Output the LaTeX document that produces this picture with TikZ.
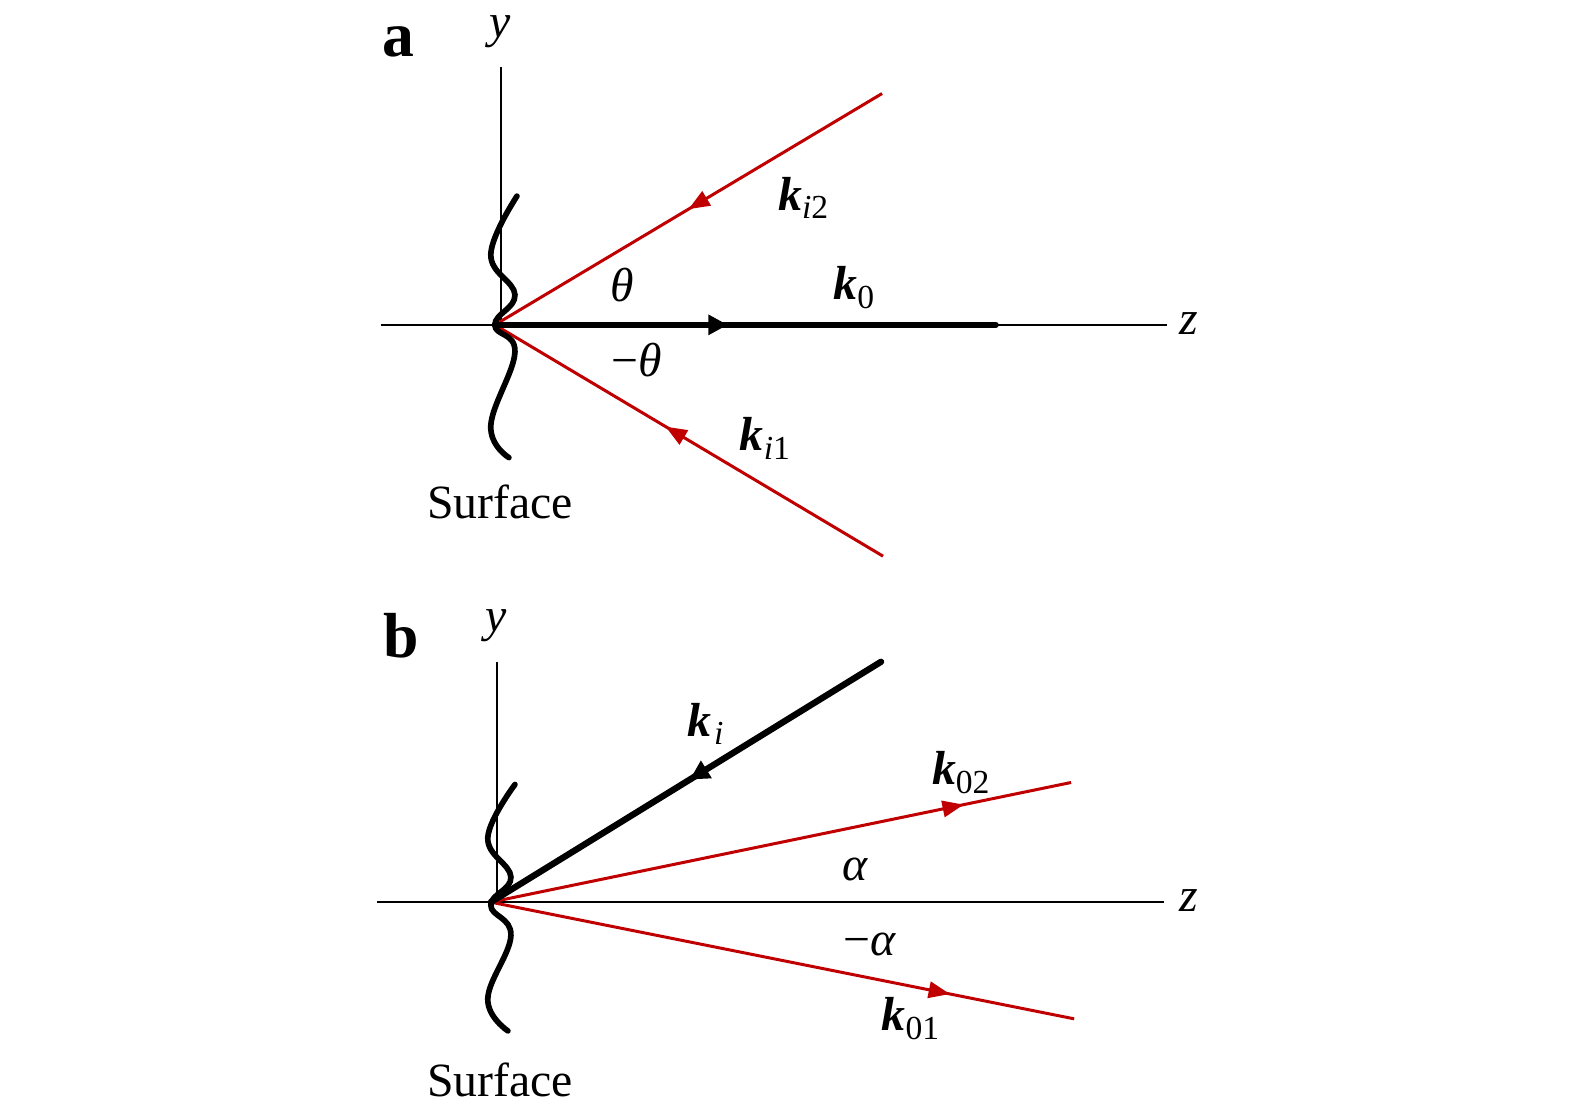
\documentclass[tikz,border=0pt]{standalone}
\usepackage{fontspec}
\setmainfont{Liberation Serif}
\usetikzlibrary{arrows.meta,decorations.markings}
\definecolor{darkred}{RGB}{192,0,0}
\newcommand{\vk}[1]{\textbf{\textit{k}}\raisebox{-0.4ex}{\fontsize{9.5}{10}\selectfont #1}}
\tikzset{
  axis/.style={line width=0.7pt},
  redray/.style={draw=darkred,line width=0.85pt},
  blackray/.style={line width=1.8pt,line cap=round},
  wave/.style={line width=1.6pt,line cap=round},
  lbl/.style={inner sep=0pt,font=\fontsize{13.5}{15}\selectfont},
  panel/.style={inner sep=0pt,font=\fontsize{18}{20}\selectfont\bfseries},
  markred/.style={postaction={decorate},decoration={markings,mark=at position #1 with {\arrow{Triangle[length=6pt,width=4.6pt]}}}},
  markblack/.style={postaction={decorate},decoration={markings,mark=at position #1 with {\arrow{Triangle[length=5.5pt,width=5.5pt]}}}}
}
\begin{document}
\begin{tikzpicture}[x=0.01cm,y=-0.01cm]
\useasboundingbox (0,0) rectangle (1566,1106);
% ---------- panel a ----------
\coordinate (oa) at (492,323);
\coordinate (yatop) at (498,67);
\coordinate (yabot) at (498,323);
\coordinate (zaL) at (379,323);
\coordinate (zaR) at (1160,323);
\coordinate (ki2end) at (877,93);
\coordinate (ki1end) at (878,553);
\coordinate (k0end) at (990,323);
\draw[axis] (yatop) -- (yabot);
\draw[axis] (zaL) -- (zaR);
\draw[redray,markred=0.5] (ki2end) -- (oa);
\draw[redray,markred=0.56] (ki1end) -- (oa);
\draw[blackray,markblack=0.465] (oa) -- (k0end);
\draw[wave] plot[smooth,tension=0.7] coordinates {(514,195) (488,253) (512,293) (492,323) (512,350) (488,423) (506,455)};
\node[panel] (pa) at (396,42) {a};
\node[lbl,font=\fontsize{13.5}{15}\selectfont\itshape] (ya) at (497,32) {y};
\node[lbl,font=\fontsize{13.5}{15}\selectfont\itshape] (za) at (1182,322) {z};
\node[lbl,anchor=base west] (lki2) at (773,209) {\vk{\textit{i}2}};
\node[lbl,anchor=base west] (lk0) at (828,298) {\vk{0}};
\node[lbl,anchor=base west] (lki1) at (735,448) {\vk{\textit{i}1}};
\node[lbl,anchor=base west] (lth) at (606,300) {\textit{θ}};
\node[lbl,anchor=base west] (lmth) at (607,374) {−\textit{θ}};
\node[lbl,anchor=base west] (surfa) at (424,516) {Surface};
% ---------- panel b ----------
\coordinate (ob) at (488,897);
\coordinate (ybtop) at (494,658);
\coordinate (ybbot) at (494,897);
\coordinate (zbL) at (375,897);
\coordinate (zbR) at (1157,897);
\coordinate (kiend) at (876,658);
\coordinate (k02end) at (1065,778);
\coordinate (k01end) at (1068,1013);
\draw[axis] (ybtop) -- (ybbot);
\draw[axis] (zbL) -- (zbR);
\draw[redray,markred=0.815] (ob) -- (k02end);
\draw[redray,markred=0.787] (ob) -- (k01end);
\draw[blackray,markblack=0.49] (kiend) -- (ob);
\draw[wave] plot[smooth,tension=0.7] coordinates {(512,780) (485,833) (508,872) (488,900) (508,930) (485,993) (505,1025)};
\node[panel] (pb) at (399,632) {b};
\node[lbl,font=\fontsize{13.5}{15}\selectfont\itshape] (yb) at (493,622) {y};
\node[lbl,font=\fontsize{13.5}{15}\selectfont\itshape] (zb) at (1182,895) {z};
\node[lbl,anchor=base west] (lki) at (683,732) {\vk{\hspace{0.08em}\textit{i}}};
\node[lbl,anchor=base west] (lk02) at (926,780) {\vk{02}};
\node[lbl,anchor=base west] (lal) at (837,875) {\textit{α}};
\node[lbl,anchor=base west] (lmal) at (838,950) {−\textit{α}};
\node[lbl,anchor=base west] (lk01) at (876,1025) {\vk{01}};
\node[lbl,anchor=base west] (surfb) at (424,1090) {Surface};
\end{tikzpicture}
\end{document}
